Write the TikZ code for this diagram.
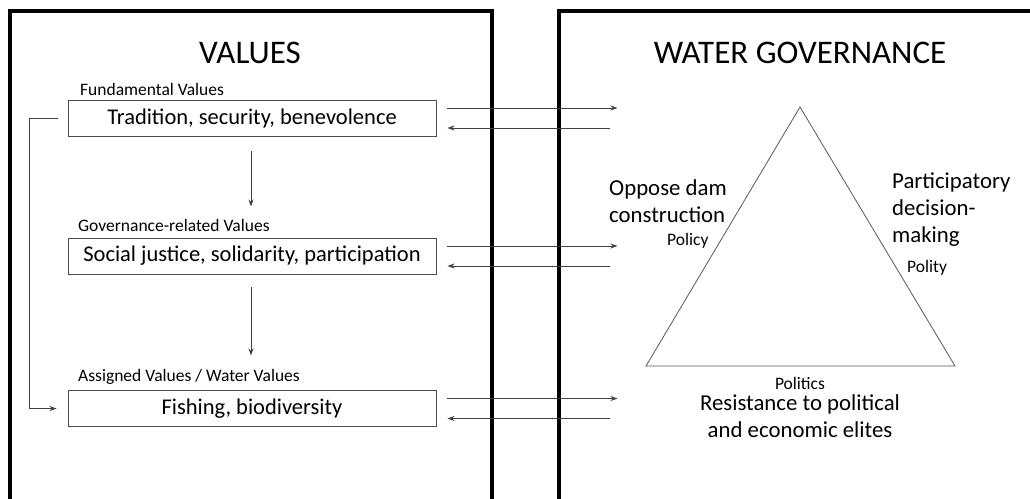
\documentclass[tikz,border=0pt]{standalone}
\usepackage{fontspec}
\setmainfont{Carlito}
\usetikzlibrary{arrows.meta,positioning}

\begin{document}
\begin{tikzpicture}[x=1pt,y=-1pt,>={Stealth[length=7pt,width=5pt]},
  every node/.style={inner sep=0pt},
  frame/.style={line width=3.6pt},
  valbox/.style={draw=black!70,line width=0.9pt,minimum width=368pt,minimum height=36pt,
    font=\fontsize{22.5}{26}\selectfont},
  tag/.style={font=\fontsize{17.5}{20}\selectfont,anchor=west},
  title/.style={font=\fontsize{33}{38}\selectfont},
  note/.style={font=\fontsize{22.8}{27}\selectfont},
  link/.style={draw=black!75,line width=0.9pt}]
\useasboundingbox (0,0) rectangle (1030,498);
\clip (0,0) rectangle (1030,498);
\fill[white] (0,0) rectangle (1030,498);
% frames
\draw[frame] (10,520) -- (10,11) -- (492,11) -- (492,520);
\draw[frame] (559,520) -- (559,11) -- (1040,11);
\node[title] (values) at (250,53) {VALUES};
\node[title] (water) at (800,53) {WATER GOVERNANCE};
% value boxes
\node[tag] (fundlbl) at (80,89) {Fundamental Values};
\node[valbox] (trad) at (252,118) {Tradition, security, benevolence};
\node[tag] (govlbl) at (78,225) {Governance-related Values};
\node[valbox] (just) at (252,256) {Social justice, solidarity, participation};
\node[tag] (asslbl) at (78,377) {Assigned Values / Water Values};
\node[valbox] (fish) at (252,408.5) {Fishing, biodiversity};
\draw[link,->] ([xshift=-1pt,yshift=-15pt]trad.south) -- ([xshift=-1pt,yshift=-70pt]trad.south);
\draw[link,->] ([xshift=-1pt,yshift=-13pt]just.south) -- ([xshift=-1pt,yshift=-81pt]just.south);
\draw[link,->] ([xshift=-10pt]trad.west) -- ([xshift=-38pt]trad.west) |- ([xshift=-11pt]fish.west);
% links to governance
\foreach \b in {trad,just,fish}{
  \coordinate (\b-out) at ([xshift=181pt,yshift=10pt]\b.east);
  \coordinate (\b-in) at ([xshift=174pt,yshift=-10pt]\b.east);
  \draw[link,->] ([xshift=11pt,yshift=10pt]\b.east) -- (\b-out);
  \draw[link,->] (\b-in) -- ([xshift=11pt,yshift=-10pt]\b.east);
}
% triangle
\coordinate (apex) at (800,107);
\coordinate (left) at (646,366);
\coordinate (right) at (955,366);
\draw[black!65,line width=0.8pt] (apex) -- (left) -- (right) -- cycle;
\node[note,align=left,anchor=north west] (dam) at (609,179) {Oppose dam\\construction};
\node[tag] (policy) at (667,241) {Policy};
\node[note,align=left,anchor=north west] (part) at (892,173) {Participatory\\decision-\\making};
\node[tag] (polity) at (907,268) {Polity};
\node[tag,anchor=center] (politics) at (800,383) {Politics};
\node[note,align=center,anchor=north] (resist) at (800,394) {Resistance to political\\and economic elites};
\end{tikzpicture}
\end{document}
